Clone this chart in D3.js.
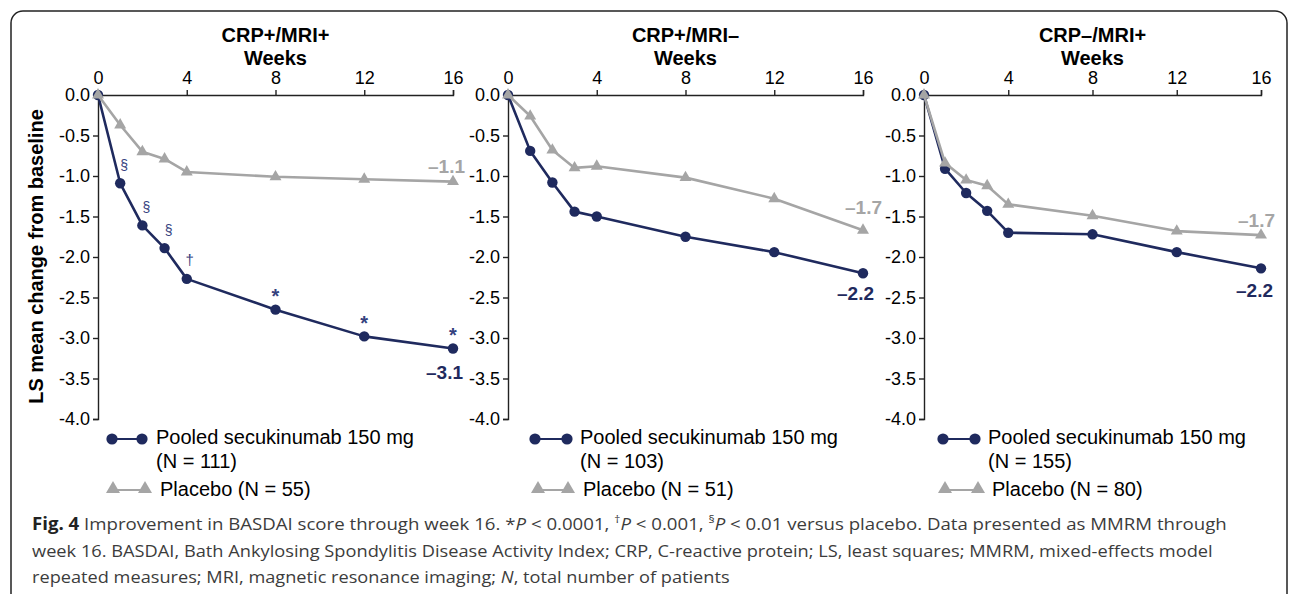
<!DOCTYPE html>
<html>
<head>
<meta charset="utf-8">
<script src="https://cdn.jsdelivr.net/npm/d3@7"></script>
<style>
  html, body { margin: 0; padding: 0; background: #fff; }
  svg { display: block; }
</style>
</head>
<body>
<svg id="chart" width="1292" height="594"></svg>
<script>
// ---------------- DATA ----------------
const weeks = [0, 1, 2, 3, 4, 8, 12, 16];
const panelTitles = ["CRP+/MRI+", "CRP+/MRI\u2013", "CRP\u2013/MRI+"];
const secukinumab_p1 = [0, -1.09, -1.61, -1.89, -2.27, -2.65, -2.98, -3.13];
const placebo_p1     = [0, -0.37, -0.70, -0.79, -0.95, -1.01, -1.04, -1.07];
const secukinumab_p2 = [0, -0.69, -1.08, -1.44, -1.50, -1.75, -1.94, -2.20];
const placebo_p2     = [0, -0.26, -0.68, -0.90, -0.88, -1.02, -1.28, -1.67];
const secukinumab_p3 = [0, -0.91, -1.21, -1.43, -1.70, -1.72, -1.94, -2.14];
const placebo_p3     = [0, -0.84, -1.05, -1.12, -1.35, -1.49, -1.68, -1.73];
const secukinumabN = [111, 103, 155];
const placeboN = [55, 51, 80];
const secEndLabels = ["\u20133.1", "\u20132.2", "\u20132.2"];
const plaEndLabels = ["\u20131.1", "\u20131.7", "\u20131.7"];
const sigMarks_p1 = ["", "\u00a7", "\u00a7", "\u00a7", "\u2020", "*", "*", "*"];
const xTickValues = [0, 4, 8, 12, 16];
const yTickValues = [0, -0.5, -1, -1.5, -2, -2.5, -3, -3.5, -4];
const yTitle = "LS mean change from baseline";
const xTitle = "Weeks";
const secName = "Pooled secukinumab 150 mg";
const plaName = "Placebo";

const secSeries = [secukinumab_p1, secukinumab_p2, secukinumab_p3];
const plaSeries = [placebo_p1, placebo_p2, placebo_p3];
const sigSeries = [sigMarks_p1, null, null];

// ---------------- LAYOUT ----------------
const NAVY = "#1f2a5e";
const GRAY = "#a5a5a5";
const SIGC = "#34417e";
const FONT = "'Liberation Sans', Arial, Helvetica, sans-serif";
const CAPFONT = "'Open Sans', 'Noto Sans', sans-serif";

const panels = [
  { x0: 98,  x1: 453,  legC: [112, 142], legCText: 156, legT: [113, 145], legTText: 160,
    plaOff: [12, -8.5], secOff: [10, 30.5] },
  { x0: 508, x1: 863,  legC: [535, 567], legCText: 580, legT: [538, 568], legTText: 583,
    plaOff: [19, -16.5], secOff: [11, 26.5] },
  { x0: 924, x1: 1261, legC: [943, 975], legCText: 988, legT: [945, 978], legTText: 992,
    plaOff: [14, -8.5], secOff: [12, 28.5] }
];
const yTop = 95, yBottom = 419;

const svg = d3.select("#chart");

// frame
svg.append("rect")
  .attr("x", 11).attr("y", 11)
  .attr("width", 1276).attr("height", 600)
  .attr("rx", 12).attr("ry", 12)
  .attr("fill", "none").attr("stroke", "#222").attr("stroke-width", 1.5);

// y axis title
svg.append("text")
  .attr("transform", "translate(43," + 256.5 + ") rotate(-90)")
  .attr("text-anchor", "middle")
  .attr("font-family", FONT).attr("font-weight", "bold").attr("font-size", 20)
  .attr("fill", "#000")
  .text(yTitle);

const triSmall = d3.symbol().type(d3.symbolTriangle).size(62);
const triLegend = d3.symbol().type(d3.symbolTriangle).size(85);

panels.forEach((p, i) => {
  const x = d3.scaleLinear().domain([0, 16]).range([p.x0, p.x1]);
  const y = d3.scaleLinear().domain([0, -4]).range([yTop, yBottom]);
  const g = svg.append("g");

  // titles
  const cx = (p.x0 + p.x1) / 2;
  g.append("text").attr("x", cx).attr("y", 41.7).attr("text-anchor", "middle")
    .attr("font-family", FONT).attr("font-weight", "bold").attr("font-size", 20)
    .text(panelTitles[i]);
  g.append("text").attr("x", cx).attr("y", 65).attr("text-anchor", "middle")
    .attr("font-family", FONT).attr("font-weight", "bold").attr("font-size", 20)
    .text(xTitle);

  // axes
  const xAxis = d3.axisTop(x).tickValues(xTickValues).tickSize(5).tickSizeOuter(5).tickPadding(6)
    .tickFormat(d3.format("d"));
  const gx = g.append("g").attr("transform", "translate(0," + yTop + ")").call(xAxis);
  const yAxis = d3.axisLeft(y).tickValues(yTickValues).tickSize(5).tickSizeOuter(5).tickPadding(3)
    .tickFormat(d => (Math.abs(d) < 1e-9 ? 0 : d).toFixed(1));
  const gy = g.append("g").attr("transform", "translate(" + p.x0 + ",0)").call(yAxis);
  [gx, gy].forEach(a => {
    a.attr("font-family", FONT).attr("font-size", 18);
    a.selectAll("path, line").attr("stroke", "#222").attr("stroke-width", 1.4);
    a.selectAll("text").attr("fill", "#000");
  });
  gy.selectAll(".tick line").filter(d => d === 0).remove();

  const line = d3.line().x((d, j) => x(weeks[j])).y(d => y(d));

  // secukinumab
  const sec = secSeries[i];
  g.append("path").datum(sec).attr("d", line)
    .attr("fill", "none").attr("stroke", NAVY).attr("stroke-width", 2.6).attr("stroke-linejoin", "round");
  g.selectAll(".secpt").data(sec).enter().append("circle")
    .attr("cx", (d, j) => x(weeks[j])).attr("cy", d => y(d)).attr("r", 5.2).attr("fill", NAVY);

  // placebo
  const pla = plaSeries[i];
  g.append("path").datum(pla).attr("d", line)
    .attr("fill", "none").attr("stroke", GRAY).attr("stroke-width", 2.6).attr("stroke-linejoin", "round");
  g.selectAll(".plapt").data(pla).enter().append("path")
    .attr("d", triSmall)
    .attr("transform", (d, j) => "translate(" + x(weeks[j]) + "," + y(d) + ")")
    .attr("fill", GRAY);

  // significance marks
  const sig = sigSeries[i];
  if (sig) {
    sig.forEach((m, j) => {
      if (!m) return;
      const px = x(weeks[j]), py = y(sec[j]);
      let dx = 0, dy = 0, fs = 15, fw = "normal";
      if (m === "*") { dx = 0; dy = -18 + 11.5; fs = 20; fw = "bold"; }
      else if (m === "\u00a7") { dx = 4; dy = -19 + 5.5; fs = 14; }
      else { dx = 3; dy = -19 + 5; fs = 15; }
      g.append("text").attr("x", px + dx).attr("y", py + dy)
        .attr("text-anchor", "middle").attr("font-family", FONT).attr("font-size", fs)
        .attr("font-weight", fw).attr("fill", SIGC).text(m);
    });
  }

  // end labels
  const last = weeks.length - 1;
  g.append("text").attr("x", x(weeks[last]) + p.plaOff[0]).attr("y", y(pla[last]) + p.plaOff[1])
    .attr("text-anchor", "end").attr("font-family", FONT).attr("font-weight", "bold")
    .attr("font-size", 19).attr("fill", GRAY).text(plaEndLabels[i]);
  g.append("text").attr("x", x(weeks[last]) + p.secOff[0]).attr("y", y(sec[last]) + p.secOff[1])
    .attr("text-anchor", "end").attr("font-family", FONT).attr("font-weight", "bold")
    .attr("font-size", 19).attr("fill", NAVY).text(secEndLabels[i]);

  // legend
  const ly1 = 439, ly2 = 489;
  g.append("line").attr("x1", p.legC[0]).attr("x2", p.legC[1]).attr("y1", ly1).attr("y2", ly1)
    .attr("stroke", NAVY).attr("stroke-width", 2);
  p.legC.forEach(cxx => g.append("circle").attr("cx", cxx).attr("cy", ly1).attr("r", 5.6).attr("fill", NAVY));
  g.append("text").attr("x", p.legCText).attr("y", 443.5)
    .attr("font-family", FONT).attr("font-size", 20).attr("fill", "#000").text(secName);
  g.append("text").attr("x", p.legCText).attr("y", 467.5)
    .attr("font-family", FONT).attr("font-size", 20).attr("fill", "#000").text("(N = " + secukinumabN[i] + ")");

  g.append("line").attr("x1", p.legT[0]).attr("x2", p.legT[1]).attr("y1", ly2 + 1).attr("y2", ly2 + 1)
    .attr("stroke", GRAY).attr("stroke-width", 2);
  p.legT.forEach(tx => g.append("path").attr("d", triLegend)
    .attr("transform", "translate(" + tx + "," + ly2 + ")").attr("fill", GRAY));
  g.append("text").attr("x", p.legTText).attr("y", 495.5)
    .attr("font-family", FONT).attr("font-size", 20).attr("fill", "#000")
    .text(plaName + " (N = " + placeboN[i] + ")");
});

// ---------------- CAPTION ----------------
const capLines = [
  { y: 529.5, w: 1196, parts: [
    { t: "Fig. 4", b: true }, { t: " Improvement in BASDAI score through week 16. *" }, { t: "P", i: true },
    { t: " < 0.0001, " }, { t: "\u2020", sup: true }, { t: "P", i: true }, { t: " < 0.001, " },
    { t: "\u00a7", sup: true }, { t: "P", i: true },
    { t: " < 0.01 versus placebo. Data presented as MMRM through" } ] },
  { y: 556.5, w: 1181, parts: [
    { t: "week 16. BASDAI, Bath Ankylosing Spondylitis Disease Activity Index; CRP, C-reactive protein; LS, least squares; MMRM, mixed-effects model" } ] },
  { y: 583, w: 698, parts: [
    { t: "repeated measures; MRI, magnetic resonance imaging; " }, { t: "N", i: true },
    { t: ", total number of patients" } ] }
];
capLines.forEach(L => {
  const t = svg.append("text").attr("x", 0).attr("y", 0)
    .attr("font-family", CAPFONT).attr("font-size", 17).attr("fill", "#3c3c3c");
  L.parts.forEach(pt => {
    const s = t.append("tspan").text(pt.t);
    if (pt.b) s.attr("font-weight", "bold").attr("fill", "#222");
    if (pt.i) s.attr("font-style", "italic");
    if (pt.sup) s.attr("font-size", 11).attr("baseline-shift", "super");
  });
  const nat = t.node().getComputedTextLength();
  t.attr("transform", "translate(32," + L.y + ") scale(" + (L.w / nat) + ",1)");
});
</script>
</body>
</html>
